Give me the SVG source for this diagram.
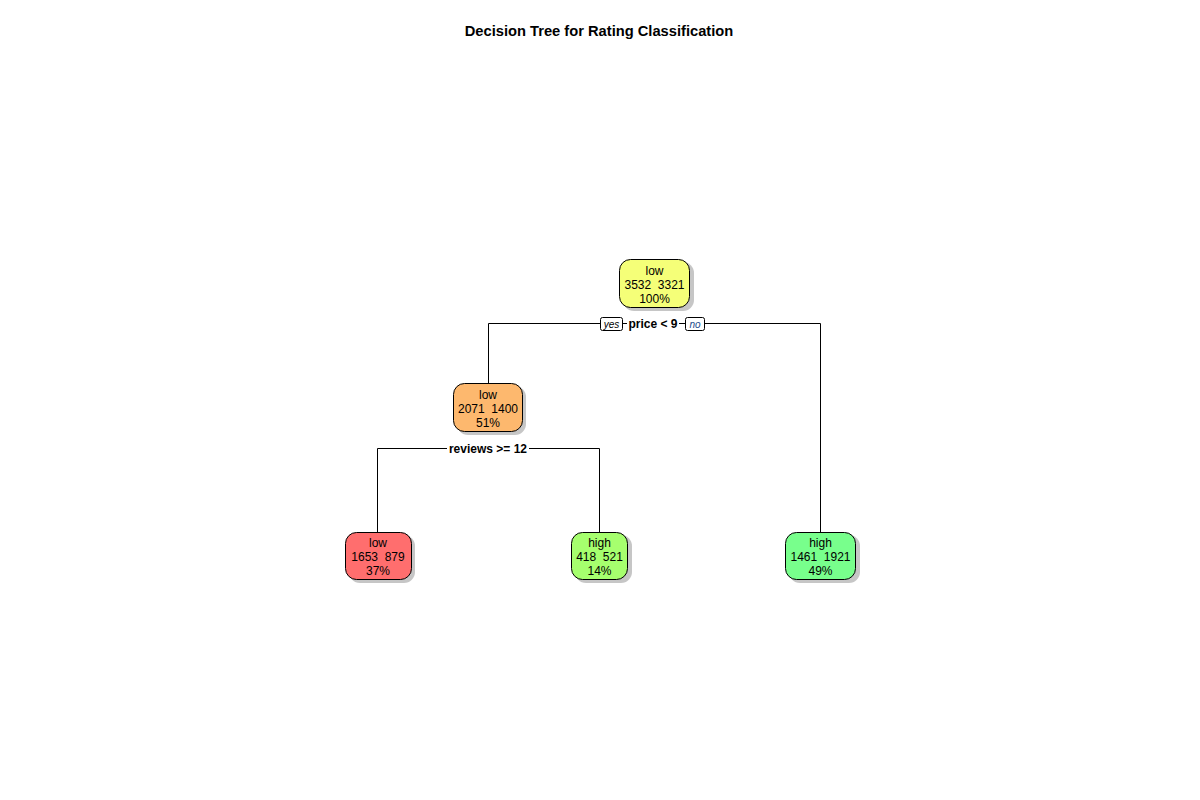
<svg xmlns="http://www.w3.org/2000/svg" width="1200" height="800" viewBox="0 0 1200 800">
<defs>
<style>
text{font-family:"Liberation Sans",Arial,sans-serif;fill:#000;white-space:pre}
.t{font-size:12px;text-anchor:middle}
.lab{font-size:12px;font-weight:bold;text-anchor:middle}
.title{font-size:14.7px;font-weight:bold;text-anchor:middle}
.box{stroke:#000;stroke-width:1}
.sh{fill:#a0a0a0;opacity:0.6}
.con{stroke:#000;stroke-width:1;fill:none}
.yn{fill:#fff;stroke:#000;stroke-width:1}
.ynt{font-size:10px;font-style:italic;text-anchor:middle}
</style>
</defs>
<rect width="1200" height="800" fill="#fff"/>
<text class="title" x="599" y="36">Decision Tree for Rating Classification</text>
<g id="connectors">
<path class="con" d="M488.5,383 V323.5 H600 M623,323.5 H627 M679,323.5 H685 M705,323.5 H820.5 V532"/>
<path class="con" d="M377.5,532 V448.5 H447 M529,448.5 H599.5 V532"/>
<rect class="yn" x="600.5" y="317.5" width="22" height="13" rx="2"/>
<text class="ynt" x="611.5" y="328" fill="#000">yes</text>
<rect class="yn" x="685.5" y="317.5" width="19" height="13" rx="2"/>
<text class="ynt" x="695" y="328" style="fill:#1a4a8a">no</text>
<text class="lab" x="653" y="328">price &lt; 9</text>
<text class="lab" x="488" y="453">reviews &gt;= 12</text>
</g>
<g id="n1">
<rect class="sh" x="623" y="262" width="71" height="49" rx="11"/>
<rect class="box" x="619.5" y="259.5" width="70" height="48" rx="11" fill="#F5FF78"/>
<text class="t" x="654.5" y="275">low</text>
<text class="t" x="654.5" y="289" xml:space="preserve">3532  3321</text>
<text class="t" x="654.5" y="303">100%</text>
</g>
<g id="n2">
<rect class="sh" x="457" y="386" width="69" height="49" rx="11"/>
<rect class="box" x="453.5" y="383.5" width="69" height="48" rx="11" fill="#FDB86E"/>
<text class="t" x="488" y="399">low</text>
<text class="t" x="488" y="413" xml:space="preserve">2071  1400</text>
<text class="t" x="488" y="427">51%</text>
</g>
<g id="n4">
<rect class="sh" x="349" y="535" width="66" height="48" rx="11"/>
<rect class="box" x="345.5" y="532.5" width="66" height="47" rx="11" fill="#FF6E6E"/>
<text class="t" x="378" y="547">low</text>
<text class="t" x="378" y="561" xml:space="preserve">1653  879</text>
<text class="t" x="378" y="575">37%</text>
</g>
<g id="n5">
<rect class="sh" x="575" y="535" width="57" height="48" rx="11"/>
<rect class="box" x="571.5" y="532.5" width="56" height="47" rx="11" fill="#A6FF6E"/>
<text class="t" x="599.5" y="547">high</text>
<text class="t" x="599.5" y="561" xml:space="preserve">418  521</text>
<text class="t" x="599.5" y="575">14%</text>
</g>
<g id="n3">
<rect class="sh" x="789" y="535" width="71" height="48" rx="11"/>
<rect class="box" x="785.5" y="532.5" width="70" height="47" rx="11" fill="#78FF8C"/>
<text class="t" x="820.5" y="547">high</text>
<text class="t" x="820.5" y="561" xml:space="preserve">1461  1921</text>
<text class="t" x="820.5" y="575">49%</text>
</g>
</svg>
